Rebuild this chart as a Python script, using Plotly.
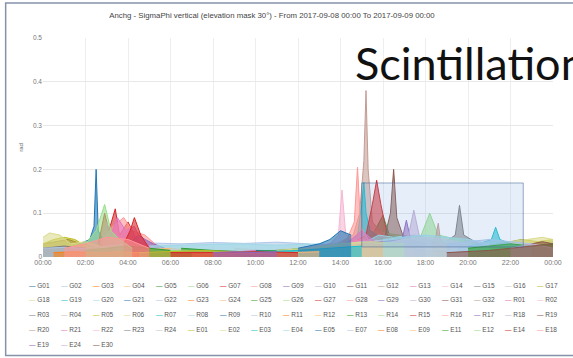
import pandas as pd
import plotly.graph_objects as go

# ---------------- data ----------------
day_start = "2017-09-08 00:00"
day_end = "2017-09-09 00:00"
chart_title = "Anchg - SigmaPhi vertical (elevation mask 30°) - From 2017-09-08 00:00 To 2017-09-09 00:00"
y_title = "rad"
overlay_text = "Scintillation"

palette = ["#1f77b4", "#aec7e8", "#ff7f0e", "#ffbb78", "#2ca02c", "#98df8a", "#d62728", "#ff9896",
           "#9467bd", "#c5b0d5", "#8c564b", "#c49c94", "#e377c2", "#f7b6d2", "#7f7f7f", "#c7c7c7",
           "#bcbd22", "#dbdb8d", "#17becf", "#9edae5"]

sat_names = ["G01", "G02", "G03", "G04", "G05", "G06", "G07", "G08", "G09", "G10", "G11", "G12",
             "G13", "G14", "G15", "G16", "G17", "G18", "G19", "G20", "G21", "G22", "G23", "G24",
             "G25", "G26", "G27", "G28", "G29", "G30", "G31", "G32",
             "R01", "R02", "R03", "R04", "R05", "R06", "R07", "R08", "R09", "R10", "R11", "R12",
             "R13", "R14", "R15", "R16", "R17", "R18", "R19", "R20", "R21", "R22", "R23", "R24",
             "E01", "E02", "E03", "E04", "E05", "E07", "E08", "E09", "E11", "E12", "E14", "E18",
             "E19", "E24", "E30"]

# sample times (hours after day_start) and sigma-phi values (rad) for each satellite
sat_hours = [
    [0.5, 1.5, 2.2, 2.4, 2.5, 2.6, 2.8, 3.5, 4.5, 6.0],
    [4.0, 5.0, 6.5, 8.0, 9.5, 11.0, 12.5, 13.3],
    [18.0, 19.0, 20.5, 22.0, 23.5],
    [6.0, 7.5, 9.0, 10.5, 12.0],
    [14.5, 15.5, 16.0, 16.3, 17.0, 18.5],
    [13.5, 14.5, 15.3, 16.8, 17.5, 19.0, 20.5],
    [2.6, 2.9, 3.1, 3.4, 3.6, 4.0, 4.4, 5.0],
    [2.8, 3.3, 3.8, 4.2, 4.8, 5.5],
    [3.0, 4.0, 4.5, 4.8, 5.2, 6.0],
    [8.0, 9.5, 11.0, 12.5, 13.5],
    [0.0, 0.6, 1.2, 1.8, 2.5, 3.5],
    [13.8, 14.6, 14.9, 15.1, 15.2, 15.3, 15.5, 16.2, 17.0],
    [2.7, 3.0, 3.2, 3.5, 3.9, 4.3, 4.7, 5.2],
    [12.5, 13.5, 13.9, 14.07, 14.25, 14.8, 15.5],
    [17.5, 18.8, 19.4, 19.6, 19.8, 20.5, 21.5],
    [9.0, 10.5, 12.0, 13.5, 15.0],
    [0.0, 0.5, 1.0, 1.5, 2.0, 2.8],
    [0.0, 0.3, 0.8, 1.3, 2.0, 3.0],
    [14.2, 14.8, 15.0, 15.1, 15.2, 15.4, 16.0, 17.0],
    [5.0, 7.0, 9.0, 11.0, 13.0, 14.0],
    [10.0, 11.5, 13.0, 14.5, 16.0],
    [15.5, 16.5, 17.5, 18.5, 20.0, 21.5],
    [20.0, 21.0, 22.0, 23.0, 24.0],
    [0.0, 1.5, 3.0, 4.5, 6.0],
    [6.5, 8.0, 9.5, 11.0, 12.5],
    [17.0, 17.8, 18.2, 18.6, 19.5, 21.0],
    [14.5, 15.2, 15.5, 15.7, 15.9, 16.2, 17.0],
    [13.6, 14.3, 14.65, 14.8, 14.95, 15.3, 16.0],
    [11.0, 12.5, 14.0, 15.5, 17.0],
    [18.0, 19.5, 21.0, 22.5, 24.0],
    [15.5, 16.1, 16.35, 16.5, 16.65, 17.0, 18.0],
    [21.0, 22.0, 23.0, 24.0],
    [4.0, 5.5, 7.0, 8.5, 10.0],
    [12.0, 13.5, 15.0, 16.5, 18.0, 19.5],
    [0.0, 1.0, 2.0, 3.0, 4.0],
    [8.0, 9.5, 11.0, 12.5, 14.0],
    [20.0, 21.5, 22.5, 23.3, 24.0],
    [21.0, 22.0, 22.8, 23.5, 24.0],
    [19.5, 20.5, 21.1, 21.3, 21.5, 22.0, 23.0],
    [15.0, 15.8, 16.5, 17.5, 18.5, 19.5],
    [17.5, 18.5, 19.5, 20.5, 21.5],
    [0.0, 1.0, 2.0, 3.0, 4.0],
    [10.0, 11.0, 12.0, 13.0, 14.0],
    [16.0, 17.5, 19.0, 20.5, 22.0],
    [2.0, 3.0, 4.0, 5.0, 6.0],
    [6.0, 7.5, 9.0, 10.5, 12.0],
    [3.8, 4.1, 4.3, 4.6, 5.0],
    [12.0, 13.0, 14.0, 15.0, 16.0],
    [14.0, 15.0, 16.0, 16.9, 17.1, 17.3, 18.0],
    [16.5, 17.2, 17.45, 17.7, 18.5],
    [22.0, 22.5, 23.0, 23.5, 24.0],
    [18.3, 18.5, 18.6, 18.7, 19.2],
    [14.0, 14.5, 15.0, 15.5, 16.0],
    [16.0, 17.0, 18.0, 19.0, 20.0],
    [5.0, 7.0, 9.0, 11.0, 13.0],
    [13.0, 14.0, 15.0, 16.0, 17.0],
    [4.5, 6.0, 7.5, 9.0, 10.5],
    [11.0, 12.5, 14.0, 15.5, 17.0],
    [9.0, 10.5, 12.0, 13.5, 15.0],
    [16.0, 17.0, 18.0, 19.0, 20.0, 21.0],
    [12.0, 13.0, 13.5, 14.0, 14.5],
    [19.0, 20.0, 21.0, 22.0, 23.0],
    [0.5, 1.5, 2.5, 3.5, 4.5],
    [7.0, 8.5, 10.0, 11.5, 13.0],
    [20.0, 21.0, 22.0, 23.0, 24.0],
    [2.0, 2.5, 2.9, 3.2, 3.6, 4.2],
    [6.0, 8.0, 10.0, 12.0],
    [1.0, 2.0, 3.0, 4.0, 5.0],
    [8.0, 9.0, 10.0, 11.0],
    [22.0, 22.5, 23.0, 23.5, 24.0],
    [19.0, 20.0, 21.0, 22.0, 23.0, 24.0],
]

sat_sigma = [
    [0.02, 0.025, 0.04, 0.07, 0.20, 0.06, 0.04, 0.03, 0.02, 0.015],
    [0.03, 0.032, 0.03, 0.033, 0.031, 0.034, 0.03, 0.02],
    [0.02, 0.015, 0.012, 0.018, 0.025],
    [0.02, 0.012, 0.01, 0.014, 0.02],
    [0.03, 0.05, 0.095, 0.05, 0.04, 0.02],
    [0.02, 0.04, 0.06, 0.05, 0.045, 0.03, 0.02],
    [0.03, 0.10, 0.06, 0.11, 0.05, 0.08, 0.04, 0.02],
    [0.04, 0.07, 0.09, 0.06, 0.05, 0.02],
    [0.02, 0.03, 0.05, 0.04, 0.03, 0.015],
    [0.015, 0.01, 0.012, 0.015, 0.02],
    [0.03, 0.035, 0.04, 0.03, 0.02, 0.015],
    [0.03, 0.05, 0.10, 0.22, 0.38, 0.20, 0.08, 0.04, 0.02],
    [0.03, 0.08, 0.05, 0.09, 0.06, 0.07, 0.03, 0.02],
    [0.02, 0.03, 0.05, 0.153, 0.05, 0.04, 0.03],
    [0.02, 0.03, 0.05, 0.118, 0.05, 0.03, 0.02],
    [0.02, 0.015, 0.012, 0.015, 0.02],
    [0.03, 0.04, 0.045, 0.04, 0.025, 0.015],
    [0.045, 0.055, 0.05, 0.03, 0.035, 0.02],
    [0.03, 0.05, 0.12, 0.17, 0.10, 0.06, 0.04, 0.02],
    [0.025, 0.028, 0.03, 0.027, 0.03, 0.025],
    [0.015, 0.012, 0.01, 0.012, 0.018],
    [0.03, 0.035, 0.04, 0.035, 0.03, 0.02],
    [0.015, 0.012, 0.01, 0.012, 0.02],
    [0.02, 0.015, 0.012, 0.015, 0.02],
    [0.02, 0.015, 0.012, 0.015, 0.02],
    [0.03, 0.05, 0.10, 0.05, 0.04, 0.02],
    [0.03, 0.05, 0.12, 0.175, 0.12, 0.05, 0.02],
    [0.02, 0.04, 0.08, 0.205, 0.07, 0.04, 0.02],
    [0.015, 0.012, 0.015, 0.02, 0.015],
    [0.02, 0.015, 0.012, 0.015, 0.02],
    [0.03, 0.05, 0.10, 0.20, 0.09, 0.04, 0.02],
    [0.02, 0.025, 0.03, 0.035],
    [0.015, 0.01, 0.008, 0.01, 0.015],
    [0.02, 0.03, 0.035, 0.04, 0.035, 0.025],
    [0.02, 0.025, 0.02, 0.015, 0.01],
    [0.01, 0.008, 0.007, 0.008, 0.012],
    [0.02, 0.03, 0.04, 0.035, 0.04],
    [0.02, 0.035, 0.04, 0.045, 0.04],
    [0.02, 0.03, 0.04, 0.068, 0.04, 0.03, 0.02],
    [0.03, 0.05, 0.045, 0.05, 0.04, 0.03],
    [0.015, 0.012, 0.01, 0.012, 0.015],
    [0.02, 0.022, 0.02, 0.025, 0.03],
    [0.01, 0.008, 0.008, 0.01, 0.015],
    [0.015, 0.012, 0.01, 0.012, 0.015],
    [0.015, 0.02, 0.025, 0.02, 0.015],
    [0.015, 0.012, 0.01, 0.012, 0.015],
    [0.03, 0.06, 0.09, 0.05, 0.02],
    [0.015, 0.02, 0.03, 0.04, 0.03],
    [0.02, 0.03, 0.035, 0.04, 0.084, 0.04, 0.03],
    [0.03, 0.05, 0.107, 0.05, 0.03],
    [0.02, 0.025, 0.03, 0.035, 0.03],
    [0.03, 0.05, 0.077, 0.04, 0.02],
    [0.02, 0.04, 0.06, 0.04, 0.02],
    [0.03, 0.04, 0.045, 0.04, 0.03],
    [0.01, 0.012, 0.01, 0.012, 0.01],
    [0.02, 0.03, 0.035, 0.03, 0.02],
    [0.01, 0.012, 0.015, 0.012, 0.01],
    [0.015, 0.02, 0.03, 0.035, 0.03],
    [0.01, 0.012, 0.015, 0.02, 0.025],
    [0.04, 0.045, 0.05, 0.045, 0.04, 0.03],
    [0.02, 0.03, 0.04, 0.06, 0.05],
    [0.03, 0.035, 0.04, 0.035, 0.03],
    [0.01, 0.012, 0.01, 0.012, 0.01],
    [0.01, 0.008, 0.008, 0.01, 0.012],
    [0.02, 0.025, 0.03, 0.025, 0.03],
    [0.03, 0.06, 0.12, 0.06, 0.04, 0.02],
    [0.01, 0.01, 0.012, 0.01],
    [0.02, 0.03, 0.045, 0.04, 0.02],
    [0.01, 0.012, 0.01, 0.012],
    [0.02, 0.025, 0.03, 0.025, 0.02],
    [0.01, 0.012, 0.015, 0.02, 0.025, 0.03],
]

# zoom-selection box drawn on the chart (hours, rad)
box_hours = [15.0, 22.6]
box_sigma = [0.023, 0.169]

y_ticks = [0, 0.1, 0.2, 0.3, 0.4, 0.5]

# ---------------- layout geometry (pixels) ----------------
W, H = 573, 358
ML, MR, MT, MB = 43, 11, 38, 101
PW = W - ML - MR
PH = H - MT - MB


def px_x(p):
    return (p - ML) / PW


def px_y(p):
    return (H - MB - p) / PH


def rgba(hexc, a):
    h = hexc.lstrip("#")
    return "rgba(%d,%d,%d,%.2f)" % (int(h[0:2], 16), int(h[2:4], 16), int(h[4:6], 16), a)


t0 = pd.Timestamp(day_start)
fig = go.Figure()
for i, name in enumerate(sat_names):
    c = palette[i % len(palette)]
    xs = [t0 + pd.Timedelta(hours=h) for h in sat_hours[i]]
    fig.add_trace(go.Scatter(
        x=xs, y=sat_sigma[i], name=name, mode="lines",
        line=dict(color=c, width=1), fill="tozeroy", fillcolor=rgba(c, 0.6),
        showlegend=False,
    ))

shapes = [
    dict(type="rect", xref="x", yref="y",
         x0=t0 + pd.Timedelta(hours=box_hours[0]), x1=t0 + pd.Timedelta(hours=box_hours[1]),
         y0=box_sigma[0], y1=box_sigma[1],
         fillcolor="rgba(130,175,225,0.2)", line=dict(color="rgba(70,100,150,0.55)", width=1)),
    dict(type="rect", xref="paper", yref="paper",
         x0=px_x(5), x1=px_x(600), y0=px_y(355.5), y1=px_y(3),
         line=dict(color="#8593aa", width=1.5), fillcolor="rgba(0,0,0,0)", layer="below"),
]

annotations = []
# legend entries (17 per row)
for i, name in enumerate(sat_names):
    row, col = divmod(i, 17)
    c = palette[i % len(palette)]
    annotations.append(dict(
        x=px_x(27 + col * 32.3), y=px_y(285 + row * 14.8), xref="paper", yref="paper",
        xanchor="left", yanchor="middle", showarrow=False,
        text='<span style="color:%s">—</span> %s' % (c, name),
        font=dict(size=6.5, color="#555555", family="Arial, Liberation Sans, sans-serif"),
    ))
annotations.append(dict(
    x=px_x(358), y=px_y(63), xref="paper", yref="paper", xanchor="left", yanchor="middle",
    showarrow=False, text=overlay_text,
    font=dict(size=45, color="#111111", family="Lato, Carlito, sans-serif"),
))

fig.update_layout(
    width=W, height=H, autosize=False,
    margin=dict(l=ML, r=MR, t=MT, b=MB),
    paper_bgcolor="white", plot_bgcolor="white",
    title=dict(text=chart_title, x=272 / W, xanchor="center", y=1 - 15 / H, yanchor="middle",
               font=dict(size=7.8, color="#444444", family="Arial, Liberation Sans, sans-serif")),
    font=dict(family="Arial, Liberation Sans, sans-serif", size=6, color="#666666"),
    xaxis=dict(type="date", range=[day_start, day_end], dtick=2 * 3600 * 1000, tick0=day_start,
               tickformat="%H:%M", showgrid=True, gridcolor="#eeeeee", zeroline=False,
               showline=False, ticks="", tickfont=dict(size=7, color="#777777")),
    yaxis=dict(range=[0, 0.5], tickvals=y_ticks, showgrid=True, gridcolor="#e8e8e8",
               zeroline=False, ticks="", tickfont=dict(size=6.5, color="#777777"),
               title=dict(text=y_title, font=dict(size=6, color="#666666"), standoff=8)),
    shapes=shapes, annotations=annotations, showlegend=False,
)

fig.write_html("out.html")
